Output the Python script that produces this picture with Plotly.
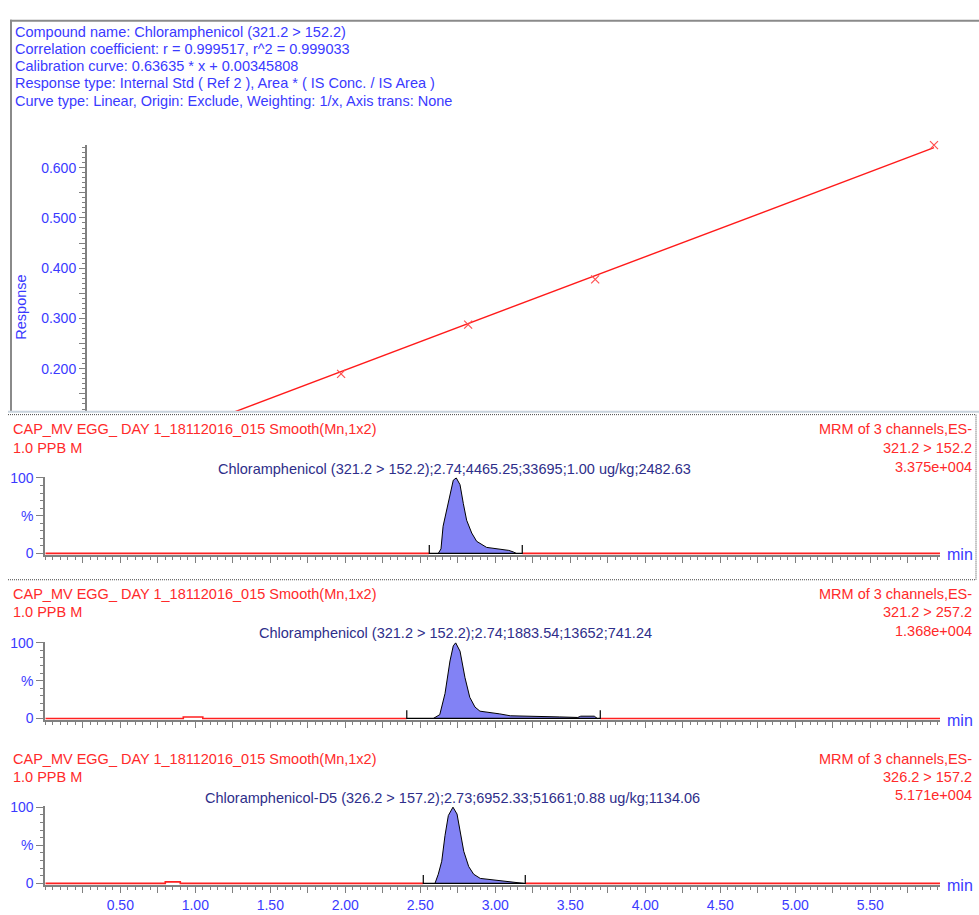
import plotly.graph_objects as go

W, H = 979, 915

# ---------------- data ----------------
header_lines = [
    "Compound name: Chloramphenicol (321.2 > 152.2)",
    "Correlation coefficient: r = 0.999517, r^2 = 0.999033",
    "Calibration curve: 0.63635 * x + 0.00345808",
    "Response type: Internal Std ( Ref 2 ), Area * ( IS Conc. / IS Area )",
    "Curve type: Linear, Origin: Exclude, Weighting: 1/x, Axis trans: None",
]
cal_slope = 0.63635
cal_intercept = 0.00345808
cal_conc = [0.3, 0.45, 0.6, 1.0]
cal_resp = [0.190, 0.288, 0.378, 0.645]
cal_line_x = [0.0, 1.0]
cal_yticks = [0.15, 0.20, 0.25, 0.30, 0.35, 0.40, 0.45, 0.50, 0.55, 0.60]

sample_name = "CAP_MV EGG_ DAY 1_18112016_015 Smooth(Mn,1x2)"
sample_desc = "1.0 PPB M"
func_name = "MRM of 3 channels,ES-"

chan_transition = ["321.2 > 152.2", "321.2 > 257.2", "326.2 > 157.2"]
chan_intensity = ["3.375e+004", "1.368e+004", "5.171e+004"]
chan_peak_label = [
    "Chloramphenicol (321.2 > 152.2);2.74;4465.25;33695;1.00 ug/kg;2482.63",
    "Chloramphenicol (321.2 > 152.2);2.74;1883.54;13652;741.24",
    "Chloramphenicol-D5 (326.2 > 157.2);2.73;6952.33;51661;0.88 ug/kg;1134.06",
]

# integration window (min)
int_start = [2.56, 2.41, 2.52]
int_end = [3.18, 3.70, 3.20]

# peak profiles (time, % of max)
peak1_t = [2.62, 2.638, 2.652, 2.675, 2.70, 2.72, 2.74, 2.765, 2.787, 2.809, 2.843, 2.876, 2.942, 3.03, 3.09, 3.12, 3.14]
peak1_p = [0, 6, 36, 58, 80, 97, 100, 91, 66, 44, 27, 16, 8, 6, 4, 2, 0]
peak2_t = [2.587, 2.63, 2.665, 2.698, 2.72, 2.736, 2.765, 2.798, 2.83, 2.865, 2.898, 2.965, 3.03, 3.10, 3.41, 3.43, 3.55, 3.57, 3.66, 3.68]
peak2_p = [0, 5, 33, 76, 96, 100, 89, 54, 28, 15, 9.6, 8, 6, 3.5, 3, 2, 1.3, 3, 3, 0]
peak3_t = [2.598, 2.62, 2.643, 2.665, 2.687, 2.718, 2.745, 2.767, 2.79, 2.823, 2.856, 2.90, 2.965, 3.03, 3.10, 3.19]
peak3_p = [0, 12, 29, 63, 89, 100, 91, 68, 42, 22, 12, 6.5, 5, 3, 2, 0]
peak_t = [peak1_t, peak2_t, peak3_t]
peak_p = [peak1_p, peak2_p, peak3_p]

# small noise bumps on the red trace (start, end, %)
noise_bumps = [[], [(0.92, 1.05, 2.0)], [(0.80, 0.90, 2.0)]]

t_min, t_max = 0.0, 5.965
x_ticks = [0.25 * i for i in range(1, 24)]
x_ticktext = [("%.2f" % v if abs(v * 2 - round(v * 2)) < 1e-9 else "") for v in x_ticks]

# ---------------- style ----------------
FONT = "Liberation Sans, Arial, sans-serif"
BLUE = "#3a3aff"
NAVY = "#2e2e8a"
RED = "#ff2a2a"
GRAY = "#808080"
FILL = "#8282f5"
TXT = 14.5
TICK = 14


def px_x(p):
    return p / W


def px_y(p):
    return 1 - p / H


fig = go.Figure()

# ---- calibration plot ----
cal_line_y = [cal_slope * v + cal_intercept for v in cal_line_x]
fig.add_trace(go.Scatter(x=cal_line_x, y=cal_line_y, mode="lines",
                         line=dict(color="#ff1a1a", width=1.4),
                         xaxis="x", yaxis="y", showlegend=False, hoverinfo="skip"))
fig.add_trace(go.Scatter(x=cal_conc, y=cal_resp, mode="markers",
                         marker=dict(symbol="x-thin", size=8, line=dict(color="#ff5050", width=1.2)),
                         xaxis="x", yaxis="y", showlegend=False, cliponaxis=False))

layout = dict(
    width=W, height=H, margin=dict(l=0, r=0, t=0, b=0),
    paper_bgcolor="white", plot_bgcolor="white",
    font=dict(family=FONT, size=TXT, color=BLUE),
    showlegend=False,
)
layout["xaxis"] = dict(domain=[px_x(87), 1.0], range=[0, (979 - 87) / 847.0],
                       visible=False, fixedrange=True)
layout["yaxis"] = dict(domain=[px_y(410), px_y(140)], range=[0.1157, 0.6451],
                       anchor="x", showline=True, linecolor=GRAY, linewidth=2,
                       tickmode="array", tickvals=cal_yticks,
                       ticktext=[("%.3f" % v if round(v * 100) % 10 == 0 else "") for v in cal_yticks],
                       ticks="outside", ticklen=6, tickcolor=GRAY, tickwidth=1,
                       minor=dict(dtick=0.01, ticks="outside", ticklen=3, tickcolor=GRAY),
                       showgrid=False, zeroline=False, fixedrange=True,
                       tickfont=dict(family=FONT, size=TICK, color=BLUE))

# ---- chromatogram panels ----
panel_y0 = [554.3, 721.7, 889.0]      # pixel of 0 %
panel_y100 = [477.7, 645.0, 811.7]    # pixel of 100 %
x_left_px, x_right_px = 45.3, 940.0

for i in range(3):
    xa = "x%d" % (i + 2)
    ya = "y%d" % (i + 2)
    # red raw trace outside the integration window
    rx, ry = [t_min], [0]
    for (a, b, h) in noise_bumps[i]:
        rx += [a, a, b, b]
        ry += [0, h, h, 0]
    rx += [int_start[i], None, int_end[i], t_max]
    ry += [0, None, 0, 0]
    fig.add_trace(go.Scatter(x=rx, y=ry, mode="lines", line=dict(color="#ff2020", width=1.6),
                             xaxis=xa, yaxis=ya, hoverinfo="skip", connectgaps=False))
    # integrated peak
    fig.add_trace(go.Scatter(x=peak_t[i], y=peak_p[i], mode="lines", fill="tozeroy",
                             fillcolor=FILL, line=dict(color="black", width=1),
                             xaxis=xa, yaxis=ya, hoverinfo="skip"))
    # integration baseline and start/end markers
    s, e = int_start[i], int_end[i]
    fig.add_trace(go.Scatter(x=[s, s, e, e], y=[11, 0, 0, 11], mode="lines",
                             line=dict(color="black", width=1.2),
                             xaxis=xa, yaxis=ya, hoverinfo="skip"))

    sc = (panel_y0[i] - panel_y100[i]) / 100.0
    top_px = panel_y100[i] - 0.7
    bot_px = panel_y0[i] + 1.7
    yr = [-(bot_px - panel_y0[i]) / sc, 100 + (panel_y100[i] - top_px) / sc]
    last = (i == 2)
    layout["xaxis%d" % (i + 2)] = dict(
        domain=[px_x(x_left_px), px_x(x_right_px)], range=[t_min, t_max],
        anchor=ya, showline=True, linecolor=GRAY, linewidth=2,
        tickmode="array", tickvals=x_ticks,
        ticktext=x_ticktext if last else [""] * len(x_ticks),
        ticks="outside", ticklen=6, tickcolor=GRAY, tickwidth=1,
        minor=dict(dtick=0.05, tick0=0, ticks="outside", ticklen=3, tickcolor=GRAY),
        showgrid=False, zeroline=False, fixedrange=True,
        tickfont=dict(family=FONT, size=TICK, color=BLUE))
    layout["yaxis%d" % (i + 2)] = dict(
        domain=[px_y(bot_px), px_y(top_px)], range=yr,
        anchor=xa, showline=True, linecolor=GRAY, linewidth=2,
        tickmode="array", tickvals=[0, 50, 100], ticktext=["0", "%", "100"],
        ticks="outside", ticklen=7, tickcolor=GRAY, tickwidth=1,
        minor=dict(dtick=10, ticks="outside", ticklen=3, tickcolor=GRAY),
        showgrid=False, zeroline=False, fixedrange=True,
        tickfont=dict(family=FONT, size=TICK, color=BLUE))

fig.update_layout(**layout)

# ---------------- text ----------------
ann = []
for k, line in enumerate(header_lines):
    ann.append(dict(x=px_x(13), y=px_y(25 + 17.5 * k), text=line, xanchor="left", yanchor="middle",
                    font=dict(color=BLUE, size=TXT, family=FONT)))
ann.append(dict(x=px_x(21), y=px_y(305), text="Response", textangle=-90, xanchor="center",
                yanchor="middle", font=dict(color=BLUE, size=TXT, family=FONT)))

left_y = [(428.3, 447.0), (595.0, 613.3), (762.7, 780.7)]
right_y = [(428.3, 447.3, 466.7), (595.0, 614.0, 632.5), (762.7, 780.7, 799.3)]
peak_lbl = [(454, 468.3), (455, 635.0), (452, 802.3)]
min_y = [555, 724, 891.5]
for i in range(3):
    ann.append(dict(x=px_x(11), y=px_y(left_y[i][0]), text=sample_name, xanchor="left", yanchor="middle",
                    font=dict(color=RED, size=TXT, family=FONT)))
    ann.append(dict(x=px_x(11), y=px_y(left_y[i][1]), text=sample_desc, xanchor="left", yanchor="middle",
                    font=dict(color=RED, size=TXT, family=FONT)))
    for j, t in enumerate([func_name, chan_transition[i], chan_intensity[i]]):
        ann.append(dict(x=px_x(974), y=px_y(right_y[i][j]), text=t, xanchor="right", yanchor="middle",
                        font=dict(color=RED, size=TXT, family=FONT)))
    ann.append(dict(x=px_x(peak_lbl[i][0]), y=px_y(peak_lbl[i][1]), text=chan_peak_label[i],
                    xanchor="center", yanchor="middle", font=dict(color=NAVY, size=TXT, family=FONT)))
    ann.append(dict(x=px_x(960), y=px_y(min_y[i]), text="min", xanchor="center", yanchor="middle",
                    font=dict(color=BLUE, size=16, family=FONT)))
for a in ann:
    a.update(xref="paper", yref="paper", showarrow=False)
fig.update_layout(annotations=ann)

# ---------------- frames / separators ----------------
DOT = "1px,1px"
shapes = [
    # calibration window frame
    dict(type="line", x0=px_x(10), x1=1.0, y0=px_y(14), y1=px_y(14), line=dict(color="#8a8a8a", width=2)),
    dict(type="line", x0=px_x(11), x1=px_x(11), y0=px_y(13), y1=px_y(410), line=dict(color="#8a8a8a", width=2)),
    dict(type="line", x0=px_x(8), x1=1.0, y0=px_y(410.5), y1=px_y(410.5), line=dict(color="#c9d3dd", width=2)),
    # dotted selection box of first chromatogram
    dict(type="line", x0=px_x(8), x1=px_x(976), y0=px_y(413.5), y1=px_y(413.5), line=dict(color="#444444", width=1, dash=DOT)),
    dict(type="line", x0=px_x(8), x1=px_x(976), y0=px_y(581), y1=px_y(581), line=dict(color="#444444", width=1, dash=DOT)),
    dict(type="line", x0=px_x(976), x1=px_x(976), y0=px_y(413.5), y1=px_y(581), line=dict(color="#444444", width=1, dash=DOT)),
]
for sh in shapes:
    sh.update(xref="paper", yref="paper")
fig.update_layout(shapes=shapes)

fig.write_html("out.html", config={"displayModeBar": False},
               post_script="document.body.style.margin='0px';document.body.style.overflow='hidden';")
